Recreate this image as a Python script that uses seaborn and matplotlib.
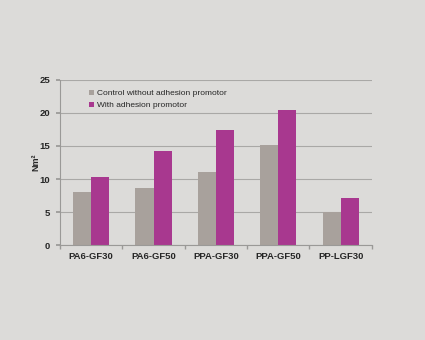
import matplotlib
matplotlib.use("Agg")
import matplotlib.pyplot as plt
import seaborn as sns
import pandas as pd

categories = ["PA6-GF30", "PA6-GF50", "PPA-GF30", "PPA-GF50", "PP-LGF30"]
control = [8.0, 8.7, 11.1, 15.1, 5.0]
promoted = [10.3, 14.2, 17.4, 20.5, 7.2]
series_names = ["Control without adhesion promotor", "With adhesion promotor"]
y_ticks = [0, 5, 10, 15, 20, 25]

df = pd.DataFrame({
    "material": categories * 2,
    "value": control + promoted,
    "series": [series_names[0]] * len(categories) + [series_names[1]] * len(categories),
})

sns.set_theme(style="white")
plt.rcParams["font.family"] = ["Liberation Sans", "DejaVu Sans"]

bg = "#dcdbd9"
fig = plt.figure(figsize=(4.25, 3.4), dpi=100, facecolor=bg)
ax = fig.add_axes([0.141, 0.279, 0.734, 0.486], facecolor=bg)

palette = {series_names[0]: "#a8a19c", series_names[1]: "#a8388f"}
sns.barplot(data=df, x="material", y="value", hue="series", palette=palette,
            width=0.58, saturation=1, ax=ax, edgecolor="none", linewidth=0)

ax.set_ylim(0, 25)
ax.set_yticks(y_ticks)
ax.set_xlim(-0.5, len(categories) - 0.5)
ax.yaxis.grid(True, color="#a9a8a6", linewidth=0.8)
ax.set_axisbelow(True)
for s in ["top", "right"]:
    ax.spines[s].set_visible(False)
for s in ["left", "bottom"]:
    ax.spines[s].set_color("#9a9997")
    ax.spines[s].set_linewidth(0.8)

ax.set_xlabel("")
ax.set_ylabel("Nm²", fontsize=6.5, fontweight="bold", labelpad=-1)
ax.tick_params(axis="y", labelsize=6.8, length=3, color="#9a9997", pad=4, left=True)
ax.tick_params(axis="x", labelsize=6.8, length=0, pad=5)
for lbl in ax.get_xticklabels() + ax.get_yticklabels():
    lbl.set_fontweight("bold")

# small separators between material groups
ax.set_xticks([i + 0.5 for i in range(-1, len(categories))], minor=True)
ax.tick_params(axis="x", which="minor", length=3, color="#9a9997", bottom=True)

leg = ax.legend(loc="upper left", bbox_to_anchor=(0.075, 0.975), frameon=False,
                fontsize=6.0, handlelength=0.55, handleheight=0.6,
                handletextpad=0.45, labelspacing=0.5, borderaxespad=0.3)

fig.savefig("out.png", dpi=100, facecolor=bg)
